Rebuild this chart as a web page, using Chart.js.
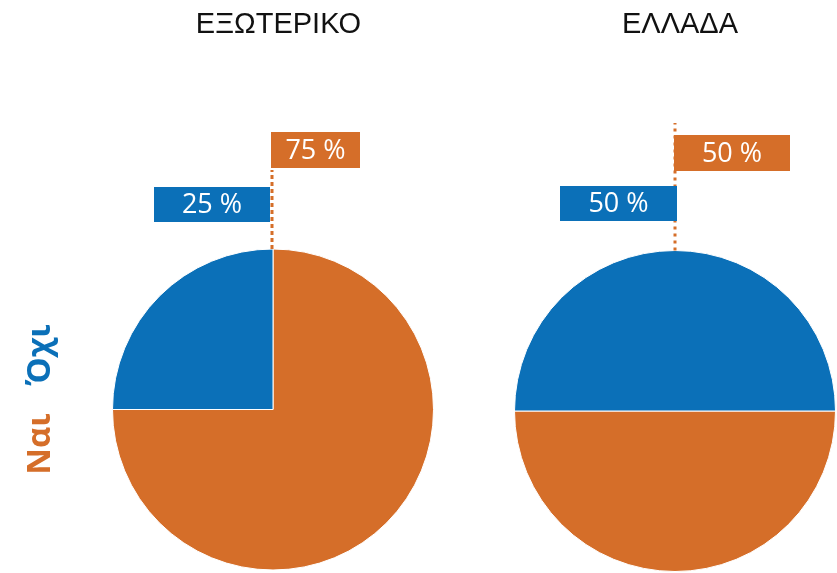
<!DOCTYPE html>
<html lang="el">
<head>
  <meta charset="UTF-8" />
  <title>Εξωτερικό – Ελλάδα</title>
  <script src="https://cdn.jsdelivr.net/npm/chart.js"></script>
  <style>
    body {
      margin: 0;
      background: #fff;
    }

    #wrap {
      position: relative;
      width: 837px;
      height: 573px;
    }

    #wrap canvas {
      position: absolute;
      left: 0;
      top: 0;
    }
  </style>
</head>
<body>

  <div id="wrap">
    <canvas id="abroadChart" width="837" height="573"></canvas>
    <canvas id="greeceChart" width="837" height="573"></canvas>
  </div>

  <script>
    // data
    const categories = ['Ναι', 'Όχι'];
    const regions = ['ΕΞΩΤΕΡΙΚΟ', 'ΕΛΛΑΔΑ'];
    const abroadValues = [75, 25];
    const greeceValues = [50, 50];

    const ORANGE = '#d56e29';
    const BLUE = '#0b70b8';
    const colors = [ORANGE, BLUE];

    // title, dashed leader line, value boxes and (optionally) the side legend
    const calloutPlugin = {
      id: 'callouts',
      afterDraw(chart, args, opts) {
        const ctx = chart.ctx;
        const arc = chart.getDatasetMeta(0).data[0];
        const cx = arc.x, cy = arc.y, r = arc.outerRadius;
        const values = chart.data.datasets[0].data;
        const total = values.reduce((a, b) => a + b, 0);
        ctx.save();

        // title
        ctx.fillStyle = '#111';
        ctx.font = '29px "Liberation Sans", Arial, sans-serif';
        ctx.textAlign = 'center';
        ctx.textBaseline = 'alphabetic';
        ctx.fillText(opts.title, cx + opts.titleDx, 33);

        // dashed line up from the top of the pie
        ctx.strokeStyle = ORANGE;
        ctx.lineWidth = 3;
        ctx.setLineDash(opts.dash);
        ctx.beginPath();
        ctx.moveTo(cx + opts.lineDx, cy - r);
        ctx.lineTo(cx + opts.lineDx, opts.lineTop);
        ctx.stroke();
        ctx.setLineDash([]);

        // value boxes
        ctx.font = '27px "Open Sans", sans-serif';
        ctx.textBaseline = 'middle';
        opts.boxes.forEach((b, i) => {
          const pct = Math.round(values[i] / total * 100);
          ctx.fillStyle = colors[i];
          ctx.fillRect(cx + b.dx, b.y, b.w, b.h);
          ctx.fillStyle = '#fff';
          ctx.fillText(pct + ' %', cx + b.dx + b.w / 2, b.y + b.h / 2 + 1);
        });

        // rotated legend
        if (opts.legend) {
          ctx.font = 'bold 33px "Open Sans", sans-serif';
          ctx.textBaseline = 'alphabetic';
          opts.legend.forEach((l, i) => {
            ctx.save();
            ctx.translate(50, l.y);
            ctx.rotate(-Math.PI / 2);
            ctx.fillStyle = colors[i];
            ctx.fillText(categories[i], 0, 0);
            ctx.restore();
          });
        }
        ctx.restore();
      }
    };

    function makePie(id, values, rotation, padding, callouts) {
      return new Chart(document.getElementById(id), {
        type: 'pie',
        data: {
          labels: categories,
          datasets: [{
            data: values,
            backgroundColor: colors,
            borderColor: '#fff',
            borderWidth: 1
          }]
        },
        options: {
          responsive: false,
          animation: false,
          events: [],
          rotation: rotation,
          layout: { padding: padding },
          plugins: {
            legend: { display: false },
            tooltip: { enabled: false },
            callouts: callouts
          }
        },
        plugins: [calloutPlugin]
      });
    }

    makePie('abroadChart', abroadValues, 0,
      { left: 112, right: 403, top: 248, bottom: 2 },
      {
        title: regions[0],
        titleDx: 5.5,
        lineDx: -1,
        lineTop: 170,
        dash: [4, 3],
        boxes: [
          { dx: -2, y: 132, w: 89, h: 36 },
          { dx: -119, y: 187, w: 116, h: 35 }
        ],
        legend: [{ y: 444 }, { y: 355 }]
      });

    makePie('greeceChart', greeceValues, 90,
      { left: 514, right: 1, top: 250, bottom: 1 },
      {
        title: regions[1],
        titleDx: 5,
        lineDx: 0,
        lineTop: 123,
        dash: [3, 4],
        boxes: [
          { dx: -1, y: 135, w: 116, h: 36 },
          { dx: -115, y: 186, w: 117, h: 35 }
        ]
      });
  </script>

</body>
</html>
